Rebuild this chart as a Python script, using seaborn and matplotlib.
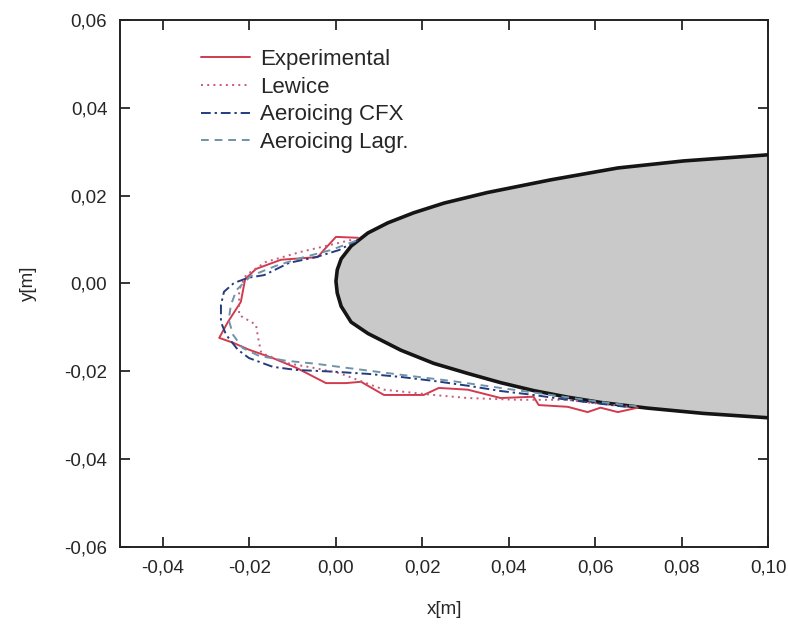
import numpy as np
import pandas as pd
import matplotlib
matplotlib.use("Agg")
import matplotlib.pyplot as plt
from matplotlib.ticker import FuncFormatter, MultipleLocator
import seaborn as sns

# Body contour (leading edge of the profile)
body_upper_x = [0.0, 0.0003, 0.0012, 0.0035, 0.0074, 0.012, 0.018, 0.025, 0.035, 0.0497, 0.0652, 0.0804, 0.1]
body_upper_y = [0.0005, 0.0031, 0.0056, 0.0085, 0.0115, 0.0138, 0.0161, 0.0183, 0.0207, 0.0236, 0.0263, 0.0279, 0.0293]
body_lower_x = [0.0, 0.0003, 0.0012, 0.0035, 0.0074, 0.015, 0.0226, 0.0305, 0.0381, 0.0457, 0.0536, 0.0612, 0.0721, 0.085, 0.1]
body_lower_y = [0.0005, -0.0022, -0.0052, -0.0088, -0.0114, -0.0152, -0.0182, -0.0205, -0.0226, -0.0244, -0.0259, -0.0271, -0.0284, -0.0296, -0.0306]

# Ice shapes
exp_x = [0.0051, 0.0, -0.0028, -0.0042, -0.0127, -0.0185, -0.021, -0.022, -0.025, -0.027, -0.0238, -0.0201,
         -0.0146, -0.0092, -0.0023, 0.0023, 0.0058, 0.0111, 0.0203, 0.0238, 0.0305, 0.0381, 0.0457, 0.0469,
         0.0536, 0.0582, 0.0612, 0.0652, 0.0698]
exp_y = [0.0104, 0.0106, 0.0076, 0.006, 0.0054, 0.0033, 0.001, -0.0042, -0.0088, -0.0124, -0.0135, -0.0151,
         -0.017, -0.0192, -0.0227, -0.0227, -0.0224, -0.0254, -0.0254, -0.0238, -0.0242, -0.0261, -0.0258, -0.0277,
         -0.0281, -0.0293, -0.0283, -0.0293, -0.0283]

lew_x = [0.0035, -0.0012, -0.0081, -0.0162, -0.0208, -0.0224, -0.0224, -0.0185, -0.018, -0.0173, -0.0116,
         -0.0053, 0.0007, 0.0111, 0.0226, 0.0305, 0.042, 0.0536, 0.0589, 0.0682]
lew_y = [0.0099, 0.0088, 0.0072, 0.0049, 0.0019, -0.0015, -0.0072, -0.0094, -0.0124, -0.0158, -0.0181,
         -0.0192, -0.0204, -0.0242, -0.0254, -0.0261, -0.0265, -0.0265, -0.0272, -0.0281]

cfx_x = [0.0051, 0.0007, -0.0046, -0.0108, -0.0166, -0.0203, -0.0236, -0.0259, -0.0266, -0.0266, -0.0254,
         -0.0227, -0.0201, -0.0146, -0.0092, -0.0005, 0.0074, 0.015, 0.0226, 0.0305, 0.0381, 0.0457, 0.0536,
         0.0612, 0.067]
cfx_y = [0.0099, 0.0076, 0.006, 0.0047, 0.0019, 0.0013, 0.0001, -0.0019, -0.0049, -0.0088, -0.0117,
         -0.0151, -0.017, -0.019, -0.0197, -0.0201, -0.0206, -0.0213, -0.0222, -0.0233, -0.0245, -0.0254, -0.0265,
         -0.0274, -0.0281]

lag_x = [0.0046, -0.0012, -0.0081, -0.0139, -0.0197, -0.023, -0.0243, -0.0248, -0.0238, -0.0216, -0.0178,
         -0.0116, -0.0046, 0.0023, 0.015, 0.0266, 0.0381, 0.0497, 0.0612, 0.0705]
lag_y = [0.0097, 0.0076, 0.0058, 0.004, 0.0017, -0.0015, -0.0049, -0.0083, -0.0117, -0.0147, -0.0165,
         -0.0176, -0.0183, -0.0192, -0.0208, -0.0222, -0.0238, -0.0254, -0.027, -0.0281]

sns.set_style("ticks")
plt.rcParams["font.family"] = ["Liberation Sans", "DejaVu Sans"]

fig = plt.figure(figsize=(7.88, 6.25), dpi=100)
ax = fig.add_axes([0.152, 0.125, 0.823, 0.843])

# grey body
bx = body_upper_x[::-1] + body_lower_x[1:]
by = body_upper_y[::-1] + body_lower_y[1:]
ax.fill(bx, by, color="#c9c9c9", zorder=1)
body = pd.DataFrame({"x": bx, "y": by})
sns.lineplot(data=body, x="x", y="y", sort=False, estimator=None, color="#151515", lw=2.6, ax=ax, zorder=3)

series = [
    ("Experimental", exp_x, exp_y, "#d23a4e", "-"),
    ("Lewice", lew_x, lew_y, "#c85a78", (0, (1, 2.2))),
    ("Aeroicing CFX", cfx_x, cfx_y, "#233c80", (0, (5, 2, 1.2, 2))),
    ("Aeroicing Lagr.", lag_x, lag_y, "#6f93a8", (0, (4, 3))),
]
for name, xs, ys, col, ls in series:
    df = pd.DataFrame({"x": xs, "y": ys})
    sns.lineplot(data=df, x="x", y="y", sort=False, estimator=None, color=col,
                 linestyle=ls, lw=1.4, label=name, ax=ax, zorder=4)

ax.set_xlim(-0.05, 0.10)
ax.set_ylim(-0.06, 0.06)
ax.yaxis.set_major_locator(MultipleLocator(0.02))
ax.set_xticks([-0.04, -0.02, 0.0, 0.02, 0.04, 0.06, 0.08, 0.10])
fmt = FuncFormatter(lambda v, p: f"{v:.2f}".replace(".", ",").replace("-0,00", "0,00"))
ax.xaxis.set_major_formatter(fmt)
ax.yaxis.set_major_formatter(fmt)
ax.tick_params(direction="in", length=7, width=1.3, top=True, right=True, labelsize=13.5, pad=9)
for s in ax.spines.values():
    s.set_linewidth(1.4)
    s.set_color("#222222")
ax.set_xlabel("x[m]", fontsize=13.5, labelpad=18)
ax.set_ylabel("y[m]", fontsize=13.5, labelpad=20)

ax.legend(loc="upper left", bbox_to_anchor=(0.105, 0.97), frameon=False, fontsize=16,
          handlelength=2.2, handletextpad=0.45, labelspacing=0.3, borderaxespad=0.2)

fig.savefig("out.png", dpi=100, facecolor="white")
